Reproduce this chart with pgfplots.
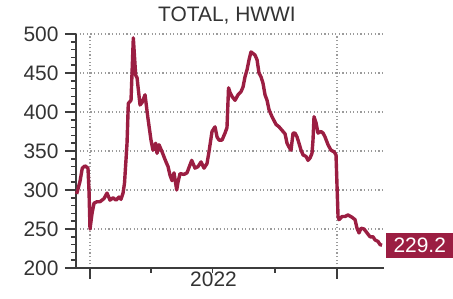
\documentclass[border=0pt]{standalone}
\usepackage{fontspec}
\setmainfont{Liberation Sans}
\usepackage{pgfplots}
\pgfplotsset{compat=1.18}
\definecolor{linecol}{RGB}{155,30,66}
\definecolor{txt}{RGB}{51,51,51}
\definecolor{gridc}{RGB}{155,155,155}
\definecolor{axc}{RGB}{60,60,60}
\begin{document}
\begin{tikzpicture}
\begin{axis}[
  at={(0,0)}, anchor=south west,
  scale only axis, width=308bp, height=234bp,
  xmin=-20.7, xmax=434.4, ymin=200, ymax=500,
  clip=false,
  axis x line*=bottom, axis y line*=left,
  axis line style={-},
  x axis line style={axc, line width=1.5bp},
  y axis line style={axc, line width=2.5bp},
  tick align=outside,
  ytick pos=left, xtick pos=bottom,
  ytick={200,250,...,500},
  minor y tick num=4,
  xtick={0,365}, xticklabels={},
  minor xtick={90,181,273},
  major tick length=11bp, minor tick length=5bp,
  tick style={axc, line width=1.5bp},
  ymajorgrids, xmajorgrids,
  major grid style={gridc, line width=1.1bp, dash pattern=on 1.2bp off 2.4bp},
  extra x ticks={182.5}, extra x tick labels={2022},
  extra x tick style={major tick length=0pt, grid=none},
  ticklabel style={font=\fontsize{21}{23}\selectfont, text=txt},
  /pgf/number format/assume math mode=true,
  yticklabel style={xshift=-3bp},
]
\addplot[linecol, line width=3.4bp, line join=round] coordinates {
(-19.7,295) (-14.8,311) (-11.4,328) (-7.4,331) (-3.0,328) (-1.5,300) (0,250)
(3.0,270) (5.9,283) (10.3,285) (14.8,285) (17.7,287) (20.7,289) (25.1,296)
(29.6,287) (34.0,290) (38.4,287) (42.9,291) (45.8,288) (48.8,296) (51.0,309)
(54.7,360) (56.6,411) (60.6,415) (64.0,495) (67.5,447) (69.5,444) (73.9,409)
(76.8,412) (81.3,422) (85.3,394) (90.1,364) (93.1,351) (97.1,360) (99.0,347)
(102.0,358) (106.4,349) (112.3,336) (115.3,330) (118.2,319) (121.2,312)
(124.1,322) (128.1,300) (130.0,310) (133.0,321) (138.9,320) (143.3,322)
(150.3,338) (155.2,328) (159.6,330) (164.0,336) (168.5,328) (172.9,334)
(175.8,349) (180.3,375) (184.7,381) (187.7,368) (190.6,364) (195.1,364)
(199.5,373) (202.4,380) (204.7,431) (206.9,425) (209.8,420) (214.3,415)
(218.7,422) (223.1,426) (226.1,432) (229.0,445) (232.0,454) (235.0,467)
(237.9,477) (240.9,475) (243.8,473) (246.8,467) (249.7,450) (252.7,445)
(255.6,437) (258.6,422) (261.6,415) (264.5,403) (268.9,394) (274.9,384)
(279.3,381) (285.2,375) (288.2,372) (291.1,360) (294.1,355) (297.0,351)
(300.0,373) (302.9,373) (305.9,368) (308.8,360) (311.8,351) (314.8,345)
(319.2,343) (322.1,338) (325.1,341) (328.0,347) (329.5,364) (331.0,394)
(334.0,386) (336.9,373) (341.3,375) (344.3,373) (347.3,368) (351.7,358)
(356.1,351) (360.6,349) (363.5,345) (365.0,305) (366.5,266) (368.0,262)
(372.4,266) (376.8,266) (381.2,268) (387.2,265) (391.6,262) (394.5,251)
(397.5,245) (400.5,251) (404.9,250) (409.3,245) (413.8,240) (418.2,240)
(421.1,236) (425.6,234) (428.5,230) (431.5,229.2)
};
\node[anchor=west, fill=linecol, text=white, minimum width=67bp, minimum height=25bp,
  inner sep=0pt, font=\fontsize{21}{23}\selectfont] at (axis cs:431.5,229.2) [xshift=4bp] {229.2};
\end{axis}
\node[text=txt, font=\fontsize{21}{23}\selectfont] at (151bp,252bp) {TOTAL, HWWI};
\pgfresetboundingbox
\path (-76bp,-31bp) rectangle (377bp,268bp);
\end{tikzpicture}
\end{document}
